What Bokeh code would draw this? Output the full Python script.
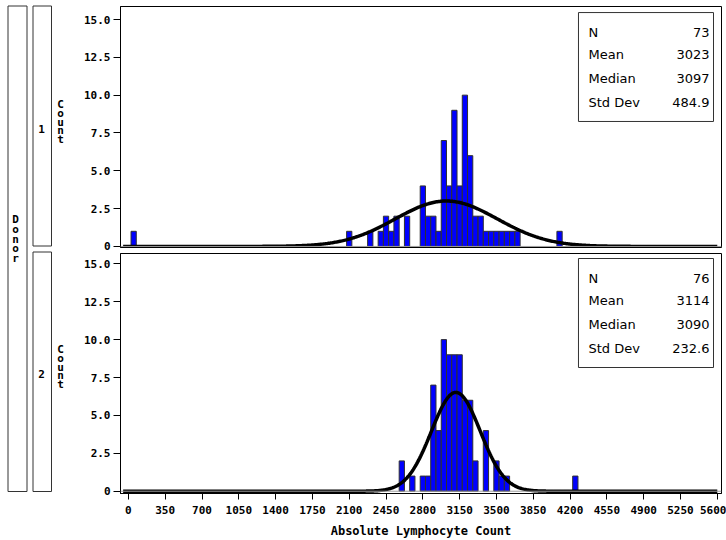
import numpy as np
from bokeh.plotting import figure
from bokeh.layouts import row, column
from bokeh.models import (Range1d, FixedTicker, BoxAnnotation, Label, Span,
                          ColumnDataSource, CustomJSTickFormatter)
from bokeh.embed import file_html
from bokeh.resources import INLINE

# ---------------- data ----------------
bin_width = 50
x_tick_values = [0, 350, 700, 1050, 1400, 1750, 2100, 2450, 2800, 3150,
                 3500, 3850, 4200, 4550, 4900, 5250, 5600]
y_tick_values = [0, 2.5, 5, 7.5, 10, 12.5, 15]

donor_ids = ["1", "2"]

donor1_midpoints = [50, 2100, 2300, 2400, 2450, 2500, 2550, 2650, 2800, 2850,
                    2900, 2950, 3000, 3050, 3100, 3150, 3200, 3250, 3300, 3350,
                    3400, 3450, 3500, 3550, 3600, 3650, 3700, 4100]
donor1_counts = [1, 1, 1, 1, 2, 1, 2, 2, 4, 2,
                 2, 1, 7, 4, 9, 4, 10, 6, 2, 2,
                 1, 1, 1, 1, 1, 1, 1, 1]

donor2_midpoints = [2600, 2700, 2800, 2850, 2900, 2950, 3000, 3050, 3100, 3150,
                    3200, 3250, 3300, 3400, 3500, 3550, 3600, 4250]
donor2_counts = [2, 1, 1, 1, 7, 4, 10, 9, 9, 9,
                 6, 6, 2, 4, 2, 1, 1, 1]

stat_names = ["N", "Mean", "Median", "Std Dev"]
donor1_n, donor1_mean, donor1_median, donor1_sd = 73, 3023, 3097, 484.9
donor2_n, donor2_mean, donor2_median, donor2_sd = 76, 3114, 3090, 232.6
donor1_stat_text = ["73", "3023", "3097", "484.9"]
donor2_stat_text = ["76", "3114", "3090", "232.6"]

x_axis_title = "Absolute Lymphocyte Count"
y_axis_title = "Count"
row_title = "Donor"

# ---------------- layout constants ----------------
STRIP_W = 74
MAIN_W = 652
TOP_H = 253
BOT_H = 287
X_RANGE = (-75, 5640)
TOP_Y_RANGE = (-0.07, 15.86)
BOT_Y_RANGE = (-0.15, 15.68)
MONO = "DejaVu Sans Mono"
SANS = "DejaVu Sans"

# stats box placement (data units of each panel)
BOX_L, BOX_R = 4280, 5564
STAT_LX, STAT_RX = 4375, 5526
TOP_BOX_TB = (15.46, 8.26)
TOP_ROWS_Y = [14.16, 12.69, 11.10, 9.53]
BOT_BOX_TB = (15.35, 8.16)
BOT_ROWS_Y = [14.05, 12.58, 11.00, 9.44]

x_range = Range1d(*X_RANGE)


def normal_curve(n, mean, sd):
    xs = np.arange(-50, 5601, 10, dtype=float)
    ys = n * bin_width / (sd * np.sqrt(2 * np.pi)) * np.exp(-0.5 * ((xs - mean) / sd) ** 2)
    return xs, ys


def make_panel(mids, counts, n, mean, sd, stat_text, height, y_rng, box_tb, rows_y,
               mb_top, mb_bottom, show_x):
    p = figure(width=MAIN_W, height=height, x_range=x_range,
               y_range=Range1d(*y_rng), output_backend="svg",
               toolbar_location=None,
               x_axis_location="below" if show_x else None,
               min_border_left=46, min_border_right=5,
               min_border_top=mb_top, min_border_bottom=mb_bottom)
    p.grid.visible = False
    p.outline_line_color = "black"
    p.outline_line_alpha = 1
    p.background_fill_color = "white"
    p.border_fill_color = "white"

    ya = p.yaxis[0]
    ya.ticker = FixedTicker(ticks=y_tick_values)
    ya.formatter = CustomJSTickFormatter(code="return tick == 0 ? '0' : tick.toFixed(1);")
    ya.axis_line_color = "black"
    ya.major_tick_line_color = "black"
    ya.major_tick_out = 7
    ya.major_tick_in = 0
    ya.minor_tick_line_color = None
    ya.major_label_text_font = MONO
    ya.major_label_text_font_style = "bold"
    ya.major_label_text_font_size = "11px"
    ya.major_label_text_color = "black"
    ya.major_label_standoff = 3

    if show_x:
        xa = p.xaxis[0]
        xa.ticker = FixedTicker(ticks=x_tick_values)
        xa.axis_line_color = "black"
        xa.major_tick_line_color = "black"
        xa.major_tick_out = 6
        xa.major_tick_in = 0
        xa.minor_tick_line_color = None
        xa.major_label_text_font = MONO
        xa.major_label_text_font_style = "bold"
        xa.major_label_text_font_size = "11px"
        xa.major_label_text_color = "black"
        xa.major_label_standoff = 6
        xa.axis_label = x_axis_title
        xa.axis_label_text_font = MONO
        xa.axis_label_text_font_style = "bold"
        xa.axis_label_text_font_size = "12px"
        xa.axis_label_text_color = "black"
        xa.axis_label_standoff = 7

    p.add_layout(Span(location=0, dimension="width", line_color="#9a9a9a", line_width=1))

    src = ColumnDataSource(dict(x=mids, top=counts))
    p.vbar(x="x", width=bin_width, top="top", bottom=0, source=src,
           fill_color="#0000FF", line_color="#303030", line_width=1)

    cx, cy = normal_curve(n, mean, sd)
    p.line(cx, cy, line_color="black", line_width=3.5)

    p.add_layout(BoxAnnotation(left=BOX_L, right=BOX_R, top=box_tb[0], bottom=box_tb[1],
                               fill_color="white", fill_alpha=1,
                               line_color="#333333", line_alpha=1, line_width=1))
    for name, val, yy in zip(stat_names, stat_text, rows_y):
        p.add_layout(Label(x=STAT_LX, y=yy, text=name, text_font=SANS,
                           text_font_size="13px", text_color="black",
                           text_align="left", text_baseline="middle"))
        p.add_layout(Label(x=STAT_RX, y=yy, text=val, text_font=SANS,
                           text_font_size="13px", text_color="black",
                           text_align="right", text_baseline="middle"))
    return p


top = make_panel(donor1_midpoints, donor1_counts, donor1_n, donor1_mean, donor1_sd,
                 donor1_stat_text, TOP_H, TOP_Y_RANGE, TOP_BOX_TB, TOP_ROWS_Y,
                 6, 6, False)
bottom = make_panel(donor2_midpoints, donor2_counts, donor2_n, donor2_mean, donor2_sd,
                    donor2_stat_text, BOT_H, BOT_Y_RANGE, BOT_BOX_TB, BOT_ROWS_Y,
                    0, 47, True)

# ---------------- left strip with row headers ----------------
STRIP_H = TOP_H + BOT_H
strip = figure(width=STRIP_W, height=STRIP_H, x_range=Range1d(0, STRIP_W),
               y_range=Range1d(STRIP_H, 0), output_backend="svg",
               toolbar_location=None, x_axis_location=None, y_axis_location=None,
               min_border_left=0, min_border_right=0, min_border_top=0,
               min_border_bottom=0)
strip.grid.visible = False
strip.outline_line_color = None
strip.background_fill_color = "white"
strip.border_fill_color = "white"

box_style = dict(fill_color="white", fill_alpha=0, line_color="#333333",
                 line_alpha=1, line_width=1)
strip.add_layout(BoxAnnotation(left=7.5, right=26.5, top=5.5, bottom=491, **box_style))
strip.add_layout(BoxAnnotation(left=32.5, right=51, top=5.5, bottom=245.5, **box_style))
strip.add_layout(BoxAnnotation(left=32.5, right=51, top=251.5, bottom=491, **box_style))

label_style = dict(text_font=MONO, text_font_style="bold", text_font_size="11px",
                   text_color="black", text_align="center", text_baseline="middle")
strip.add_layout(Label(x=41, y=128, text=donor_ids[0], **label_style))
strip.add_layout(Label(x=41, y=373, text=donor_ids[1], **label_style))

for i, ch in enumerate(row_title):
    strip.add_layout(Label(x=15, y=219 + i * 9.8, text=ch, **label_style))
for first in (104, 349):
    for i, ch in enumerate(y_axis_title):
        strip.add_layout(Label(x=60, y=first + i * 8.75, text=ch, **label_style))

layout = row(strip, column(top, bottom))

open("out.html", "w").write(file_html(layout, INLINE))
